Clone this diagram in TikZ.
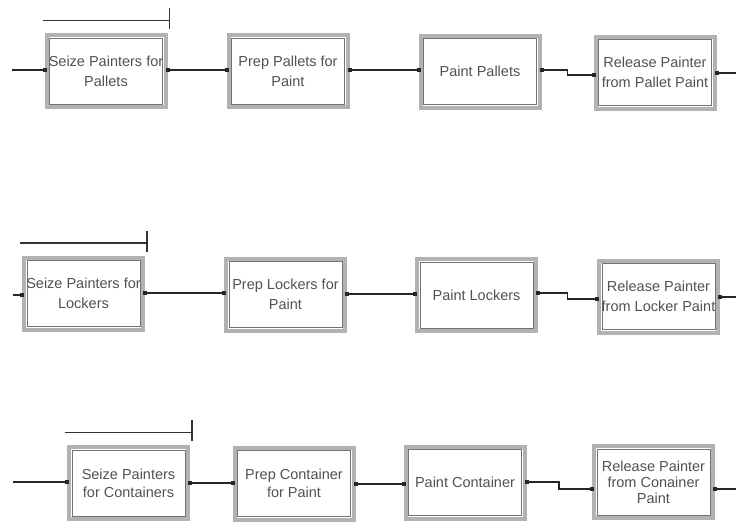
\documentclass[tikz,border=0pt]{standalone}
\usepackage{fontspec}
\setmainfont{Liberation Sans}
\usetikzlibrary{calc}
\begin{document}
\begin{tikzpicture}[x=1pt,y=-1pt,
  module/.style={draw=gray!60, line width=4pt, fill=white,
    minimum width=119pt, minimum height=72pt, inner sep=0pt,
    align=center, text=black!68, font=\fontsize{14.5}{20}\selectfont,
    path picture={\draw[black!55, line width=0.8pt]
      ([shift={(2.9pt,-2.9pt)}]path picture bounding box.north west) rectangle
      ([shift={(-2.9pt,2.9pt)}]path picture bounding box.south east);}},
  tight/.style={font=\fontsize{14.5}{18}\selectfont},
  tighter/.style={font=\fontsize{14.5}{16}\selectfont},
  wire/.style={draw=black!85, line width=1.6pt},
  seizebar/.style={draw=black!80, line width=1.7pt}]
\useasboundingbox (0,0) rectangle (736,523);

% ---- pallet line ----
\node[module] (A1) at (106,71)   {Seize Painters for\\Pallets};
\node[module] (A2) at (288,71)   {Prep Pallets for\\Paint};
\node[module] (A3) at (480,71.5) {Paint Pallets};
\node[module] (A4) at (655,72.5) {Release Painter\\from Pallet Paint};

% ---- locker line ----
\node[module] (B1) at (83.5,293.5) {Seize Painters for\\Lockers};
\node[module] (B2) at (285.5,294.5) {Prep Lockers for\\Paint};
\node[module] (B3) at (476.5,295)   {Paint Lockers};
\node[module] (B4) at (658.5,296.5) {Release Painter\\from Locker Paint};

% ---- container line ----
\node[module,tight]   (C1) at (128.5,483) {Seize Painters\\for Containers};
\node[module,tight]   (C2) at (294,483.5) {Prep Container\\for Paint};
\node[module]         (C3) at (465,482.5) {Paint Container};
\node[module,tighter] (C4) at (653.5,482) {Release Painter\\from Conainer\\Paint};

% entry / exit ports on the module edges
\coordinate (A1i) at ($(A1.west)+(0,-1)$);   \coordinate (A1o) at ($(A1.east)+(0,-1)$);
\coordinate (A2i) at ($(A2.west)+(0,-1)$);   \coordinate (A2o) at ($(A2.east)+(0,-1)$);
\coordinate (A3i) at ($(A3.west)+(0,-1.5)$); \coordinate (A3o) at ($(A3.east)+(0,-1.5)$);
\coordinate (A4i) at ($(A4.west)+(0,2.5)$);  \coordinate (A4o) at ($(A4.east)+(0,0.5)$);

\coordinate (B1i) at ($(B1.west)+(0,1.5)$);  \coordinate (B1o) at ($(B1.east)+(0,-0.5)$);
\coordinate (B2i) at ($(B2.west)+(0,-1.5)$); \coordinate (B2o) at ($(B2.east)+(0,-0.5)$);
\coordinate (B3i) at ($(B3.west)+(0,-1)$);   \coordinate (B3o) at ($(B3.east)+(0,-2)$);
\coordinate (B4i) at ($(B4.west)+(0,2.5)$);  \coordinate (B4o) at ($(B4.east)+(0,0.5)$);

\coordinate (C1i) at ($(C1.west)+(0,-1)$);   \coordinate (C1o) at ($(C1.east)+(0,0)$);
\coordinate (C2i) at ($(C2.west)+(0,-0.5)$); \coordinate (C2o) at ($(C2.east)+(0,0.5)$);
\coordinate (C3i) at ($(C3.west)+(0,1.5)$);  \coordinate (C3o) at ($(C3.east)+(0,-0.5)$);
\coordinate (C4i) at ($(C4.west)+(0,7)$);    \coordinate (C4o) at ($(C4.east)+(0,7)$);

% free ends of the incoming and outgoing lines
\coordinate (s1) at (12,70);  \coordinate (e1) at (736,73);
\coordinate (s2) at (13,295); \coordinate (e2) at (736,297);
\coordinate (s3) at (13,482); \coordinate (e3) at (736,489);

% connectors
\draw[wire] (s1) -- (A1i);
\draw[wire] (A1o) -- (A2i);
\draw[wire] (A2o) -- (A3i);
\draw[wire] (A3o) -| ($(A3o)!.5!(A4i)$) |- (A4i);
\draw[wire] (A4o) -- (e1);

\draw[wire] (s2) -- (B1i);
\draw[wire] (B1o) -- (B2i);
\draw[wire] (B2o) -- (B3i);
\draw[wire] (B3o) -| ($(B3o)!.5!(B4i)$) |- (B4i);
\draw[wire] (B4o) -- (e2);

\draw[wire] (s3) -- (C1i);
\draw[wire] (C1o) -- (C2i);
\draw[wire] (C2o) -- (C3i);
\draw[wire] (C3o) -| ($(C3o)!.5!(C4i)$) |- (C4i);
\draw[wire] (C4o) -- (e3);

% port markers
\foreach \p in {A1i,A1o,A2i,A2o,A3i,A3o,A4i,A4o,
                B1i,B1o,B2i,B2o,B3i,B3o,B4i,B4o,
                C1i,C1o,C2i,C2o,C3i,C3o,C4i,C4o}
  \fill[black!85] ($(\p)+(-2,-2)$) rectangle ($(\p)+(2,2)$);

% resource bars above the seize modules
\foreach \m in {A1,B1,C1} {
  \draw[seizebar] ($(\m.north west)+(-2,-12.5)$) -- ($(\m.north east)+(2,-12.5)$);
  \draw[seizebar] ($(\m.north east)+(2,-25)$) -- ($(\m.north east)+(2,-4)$);
}
\end{tikzpicture}
\end{document}
